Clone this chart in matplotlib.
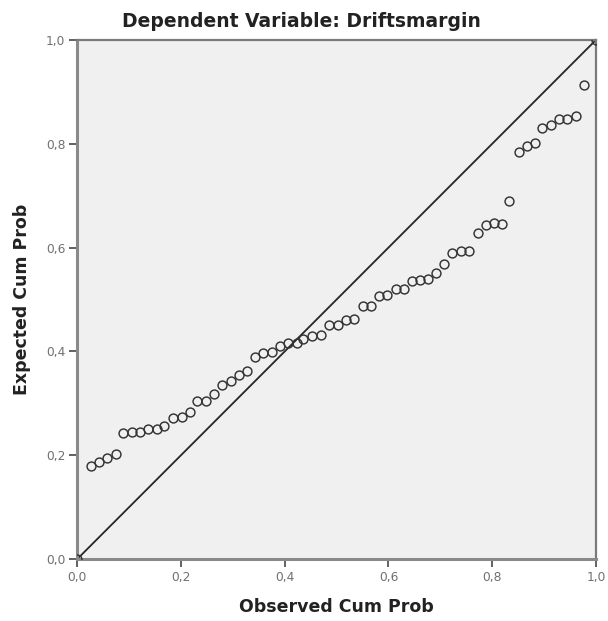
import matplotlib
matplotlib.use("Agg")
import matplotlib.pyplot as plt

# observed vs expected cumulative probabilities of the standardized residuals
observed_cum_prob = [
    0.000, 0.026, 0.042, 0.058, 0.074, 0.089, 0.105, 0.121, 0.137, 0.153,
    0.168, 0.185, 0.201, 0.217, 0.231, 0.248, 0.264, 0.280, 0.296, 0.312,
    0.328, 0.343, 0.359, 0.375, 0.391, 0.407, 0.423, 0.436, 0.453, 0.469,
    0.486, 0.502, 0.518, 0.534, 0.550, 0.566, 0.582, 0.598, 0.614, 0.630,
    0.645, 0.660, 0.676, 0.692, 0.707, 0.723, 0.739, 0.755, 0.772, 0.788,
    0.804, 0.819, 0.833, 0.851, 0.867, 0.883, 0.897, 0.913, 0.929, 0.945,
    0.961, 0.977, 1.000,
]
expected_cum_prob = [
    0.000, 0.179, 0.187, 0.195, 0.202, 0.242, 0.244, 0.244, 0.251, 0.251,
    0.257, 0.271, 0.273, 0.283, 0.305, 0.305, 0.317, 0.336, 0.343, 0.354,
    0.363, 0.390, 0.397, 0.398, 0.411, 0.416, 0.416, 0.424, 0.429, 0.432,
    0.450, 0.451, 0.460, 0.463, 0.487, 0.488, 0.506, 0.508, 0.521, 0.520,
    0.536, 0.538, 0.540, 0.551, 0.569, 0.590, 0.593, 0.594, 0.628, 0.644,
    0.647, 0.646, 0.689, 0.784, 0.795, 0.802, 0.831, 0.837, 0.847, 0.848,
    0.854, 0.914, 1.000,
]
tick_values = [0.0, 0.2, 0.4, 0.6, 0.8, 1.0]
tick_labels = ["0,0", "0,2", "0,4", "0,6", "0,8", "1,0"]

fig = plt.figure(figsize=(6.08, 6.21), dpi=100)
ax = fig.add_axes([0.1271, 0.0998, 0.8530, 0.8358])
ax.set_facecolor("#f0f0f0")

# reference line for a perfect normal fit
ax.plot([0, 1], [0, 1], color="#262626", lw=1.3, zorder=2)
ax.plot(observed_cum_prob, expected_cum_prob, linestyle="none", marker="o",
        markersize=6.4, markerfacecolor="none", markeredgecolor="#333333",
        markeredgewidth=1.05, zorder=3)

ax.set_xlim(0, 1)
ax.set_ylim(0, 1)
ax.set_xticks(tick_values)
ax.set_xticklabels(tick_labels)
ax.set_yticks(tick_values)
ax.set_yticklabels(tick_labels)
ax.tick_params(direction="out", length=6, width=1.3, color="#555555",
               labelcolor="#707070", labelsize=8.8, pad=2.5)

for side in ["left", "bottom"]:
    ax.spines[side].set_color("#8a8a8a")
    ax.spines[side].set_linewidth(2.2)
for side in ["top", "right"]:
    ax.spines[side].set_color("#7a7a7a")
    ax.spines[side].set_linewidth(1.6)

ax.set_xlabel("Observed Cum Prob", fontsize=12.5, fontweight="bold",
              color="#222222", labelpad=10)
ax.set_ylabel("Expected Cum Prob", fontsize=12.5, fontweight="bold",
              color="#222222", labelpad=11)
fig.suptitle("Dependent Variable: Driftsmargin", fontsize=13.5,
             fontweight="bold", color="#222222", x=0.495, y=0.966,
             va="center")

fig.savefig("out.png", dpi=100, facecolor="white")
